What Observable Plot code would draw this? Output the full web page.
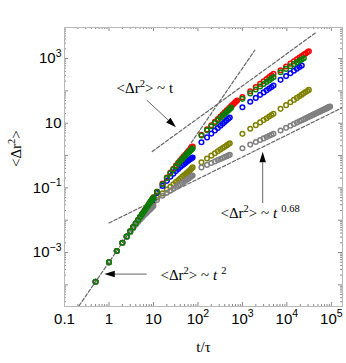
<!DOCTYPE html>
<html><head><meta charset="utf-8">
<script src="https://cdn.jsdelivr.net/npm/d3@7"></script>
<script src="https://cdn.jsdelivr.net/npm/@observablehq/plot@0.6"></script>
<style>body{margin:0;background:#fff}</style>
</head><body>
<script>
// ---- time grids (t/τ) ----
const T1 = [0.5,1,1.5,2,2.5,3,3.5,4,4.5,5,5.5,6,6.5,7,7.5,8,8.5,9,9.5,10];
const T2 = [12,16,20,24,28,32,36,40,44,48,52,56,60,64,68,72,76];
const T3 = [120,160,200,240,280,320,360,400,440,480,520,560,600,640,680,720,760];
const T4 = [1000,1500,2000,2500,3000,3500,4000,4500,5000];
const T5 = [7200,9600,12000,14400,16800,19200,21600,24000,26400,28800,31200,33600,36000,38400,40800,43200,45600,48000,50400,52800,55200,57600,60000,62400,64800,67200,69600,72000,74400,76800,79200,81600,84000,86400,88800,91200,93600];
const GRIDS = [T1, T2, T3, T4, T5];

// ---- <Δr²> values per series, per time block ----
const red = [
  [1.25e-4,5.0e-4,1.12e-3,2.0e-3,3.12e-3,4.5e-3,6.1e-3,8.0e-3,0.0101,0.0125,0.0151,0.018,0.0211,0.0245,0.0281,0.0322,0.0364,0.041,0.0457,0.051],
  [0.076,0.135,0.21,0.295,0.39,0.49,0.6,0.71,0.82,0.94,1.06,1.18,1.31,1.44,1.57,1.72,1.88],
  [4.4,6.43,8.64,10.99,13.47,16.07,18.76,21.57,24.46,27.44,30.49,33.62,36.83,40.1,43.44,46.85,50.3],
  [64,97.2,130.7,164.4,198.4,232.6,266.9,301.3,335.9],
  [435,566.8,696,823.1,948.7,1072.5,1195,1317,1438,1558,1677]
];
const green = [
  [1.25e-4,5.0e-4,1.12e-3,2.0e-3,3.12e-3,4.5e-3,6.1e-3,8.0e-3,0.0101,0.0125,0.0151,0.018,0.0211,0.0245,0.0281,0.032,0.0361,0.0405,0.0451,0.05],
  [0.075,0.13,0.2,0.28,0.37,0.46,0.56,0.66,0.76,0.87,0.98,1.09,1.2,1.31,1.42,1.53,1.65],
  [4.15,6.01,8.02,10.15,12.38,14.71,17.12,19.61,22.18,24.81,27.51,30.27],
  [56.6,83.5,110.1,136.4,162.5,188.4,214.2,239.9,265.3],
  [377,478.6,576,670,761.6,851.1,938.3,1024]
];
const blue = [
  [1.25e-4,5.0e-4,1.12e-3,2.0e-3,3.1e-3,4.45e-3,6.0e-3,7.8e-3,9.9e-3,0.0123,0.0147,0.0173,0.02,0.0229,0.026,0.0292,0.0326,0.0362,0.04,0.044],
  [0.07,0.115,0.165,0.22,0.275,0.33,0.385,0.44,0.49,0.54,0.59,0.64,0.69,0.735,0.78,0.825,0.87],
  [2.58,3.64,4.76,5.93,7.13,8.37,9.64,10.94,12.27,13.62,14.99],
  [31.2,46.06,60.7,75.2,89.6,103.9,118.1,132.2,146.3],
  [219,286.2,352.2,417.3,481.6,545.3,608.4]
];
const olive = [
  [1.25e-4,5.0e-4,1.11e-3,1.98e-3,3.05e-3,4.35e-3,5.8e-3,7.6e-3,9.5e-3,0.0114,0.0135,0.0156,0.0178,0.0201,0.0224,0.0248,0.0272,0.0296,0.032,0.035],
  [0.05,0.068,0.088,0.108,0.13,0.15,0.172,0.195,0.218,0.24,0.262,0.285,0.31,0.335,0.36,0.395,0.43],
  [0.62,0.808,0.992,1.173,1.352,1.529,1.703,1.877,2.049,2.22,2.389],
  [4.69,6.73,8.69,10.6,12.47,14.3,16.11,17.88,19.65],
  [27.8,36.2,44.5,52.6,60.6,68.5,76.4,84.2,91.9,99.5,107.1]
];
const gray = [
  [1.24e-4,4.95e-4,1.1e-3,1.96e-3,3.0e-3,4.25e-3,5.6e-3,7.2e-3,8.8e-3,0.0104,0.012,0.0136,0.0152,0.0168,0.0185,0.0202,0.0219,0.0237,0.0255,0.0275],
  [0.042,0.057,0.07,0.082,0.094,0.106,0.118,0.13,0.142,0.154,0.166,0.178,0.19,0.202,0.215,0.228,0.24],
  [0.43,0.513,0.587,0.656,0.721,0.782,0.84,0.896,0.95,1.0,1.05],
  [1.68,2.18,2.62,3.02,3.39,3.75,4.08,4.4,4.71],
  [5.93,7.18,8.33,9.4,10.42,11.39,12.31,13.21,14.08,14.91,15.73,16.52,17.29,18.05,18.79,19.53,20.24,20.94,21.63,22.31,22.98,23.64,24.29,24.94,25.56,26.19,26.81,27.42,28.02,28.62,29.22,29.81,30.39,30.96,31.52,32.09,32.65]
];
const SERIES_NAMES = ["olive","blue","red","gray","green"];   // drawing order
const SERIES_COLORS = ["#aaa800","#0000ff","#ff0000","#3a3a3a","#129a12"];
const SERIES_DATA = {gray, olive, blue, red, green};

// ---- guide lines (power laws) ----
const fitName = ["t2","t2","t1","t1","t068","t068"];
const fitT    = [0.18, 1900, 9.4, 46300, 1, 178000];
const fitV    = [1.62e-5, 1805, 1.33, 6550, 0.0082, 30.5];

// ---- axis ticks ----
const xDomain = [0.1, 178000];
const yDomain = [2.14e-5, 9120];
const xLabelVals = [0.1, 1, 10, 100, 1000, 10000, 100000];
const xLabelText = ["0.1", "1", "10", "10^{2}", "10^{3}", "10^{4}", "10^{5}"];
const yLabelVals = [0.001, 0.1, 10, 1000];
const yLabelText = ["10^{\u22123}", "10^{\u22121}", "10", "10^{3}"];

// ---- annotations ----
const noteText = ["<\u0394r^{2}> ~ t", "<\u0394r^{2}> ~ *{t}^{\u2009\u20090.68}", "<\u0394r^{2}> ~ *{t}^{\u2009\u20092}"];
const noteT = [1.48, 321, 14.4];
const noteV = [118, 0.0161, 1.94e-4];
const arrowT1 = [7.23, 2930, 7.23];
const arrowV1 = [50.2, 0.0327, 2.08e-4];
const arrowT2 = [33, 2930, 0.806];
const arrowV2 = [7.18, 1.26, 2.08e-4];

// ---- build rows ----
const rows = [];
for (const name of SERIES_NAMES) {
  SERIES_DATA[name].forEach((vals, b) => {
    vals.forEach((v, i) => rows.push({series: name, t: GRIDS[b][i], v}));
  });
}
const fits = fitT.map((t, i) => ({fit: fitName[i], t, v: fitV[i]}));
const xt = d3.scaleLog().domain(xDomain).ticks(40);
const yt = d3.scaleLog().domain(yDomain).ticks(40);
const isMajor = d => Math.abs(Math.log10(d) - Math.round(Math.log10(d))) < 1e-9;
const xMaj = xt.filter(isMajor), xMin = xt.filter(d => !isMajor(d));
const yMaj = yt.filter(isMajor), yMin = yt.filter(d => !isMajor(d));

const W = 346, H = 363, mL = 64, mR = 4, mT = 27, mB = 57;
const PH = H - mT - mB, PW = W - mL - mR;
const tickColor = "#8a8a8a";

const plot = Plot.plot({
  width: W, height: H,
  marginLeft: mL, marginRight: mR, marginTop: mT, marginBottom: mB,
  x: {type: "log", domain: xDomain, axis: null},
  y: {type: "log", domain: yDomain, axis: null},
  color: {domain: SERIES_NAMES, range: SERIES_COLORS},
  style: {fontFamily: "'Liberation Sans', Arial, sans-serif", fontSize: "15px", background: "#fff", color: "#000"},
  marks: [
    // inward ticks, all four sides
    Plot.tickX(xMaj, {x: d => d, stroke: tickColor, insetTop: PH - 4}),
    Plot.tickX(xMin, {x: d => d, stroke: tickColor, insetTop: PH - 2}),
    Plot.tickX(xMaj, {x: d => d, stroke: tickColor, insetBottom: PH - 4}),
    Plot.tickX(xMin, {x: d => d, stroke: tickColor, insetBottom: PH - 2}),
    Plot.tickY(yMaj, {y: d => d, stroke: tickColor, insetRight: PW - 4}),
    Plot.tickY(yMin, {y: d => d, stroke: tickColor, insetRight: PW - 2}),
    Plot.tickY(yMaj, {y: d => d, stroke: tickColor, insetLeft: PW - 4}),
    Plot.tickY(yMin, {y: d => d, stroke: tickColor, insetLeft: PW - 2}),
    Plot.frame({stroke: "#b8b8b8"}),
    // guide lines
    Plot.line(fits, {x: "t", y: "v", z: "fit", stroke: "#666", strokeWidth: 1.2, strokeDasharray: "3.5,2", clip: true}),
    // data
    Plot.dot(rows, {x: "t", y: "v", stroke: "series", r: 2.3, strokeWidth: 1.5, fill: "none"}),
    // tick labels
    Plot.text(xLabelVals, {x: d => d, frameAnchor: "bottom", dy: 17, text: (d, i) => xLabelText[i], fontSize: 15}),
    Plot.text(yLabelVals, {y: d => d, frameAnchor: "left", dx: -3, textAnchor: "end", text: (d, i) => yLabelText[i], fontSize: 15}),
    // axis titles
    Plot.text(["t/\u03c4"], {frameAnchor: "bottom", dy: 45, fontSize: 15, fontFamily: "'Liberation Serif', 'Times New Roman', serif"}),
    Plot.text(["<\u0394r^{2}>"], {frameAnchor: "left", dx: -48, rotate: -90, fontSize: 15, fontFamily: "'Liberation Serif', 'Times New Roman', serif"}),
    // annotations
    Plot.text(noteText, {x: (d, i) => noteT[i], y: (d, i) => noteV[i], text: d => d, textAnchor: "start", fontSize: 15, fontFamily: "'Liberation Serif', 'Times New Roman', serif"})
  ]
});
document.body.appendChild(plot);

// rich text: ^{...} superscript, *{...} italic
const NS = "http://www.w3.org/2000/svg";
plot.querySelectorAll("text").forEach(el => {
  const s = el.textContent;
  if (!/[\^*]\{/.test(s)) return;
  const fs = parseFloat(getComputedStyle(el).fontSize) || 15;
  const sh = +(fs * 0.42).toFixed(2);
  while (el.firstChild) el.removeChild(el.firstChild);
  let raised = false;
  for (const p of s.split(/(\^\{[^}]*\}|\*\{[^}]*\})/)) {
    if (!p) continue;
    const ts = document.createElementNS(NS, "tspan");
    if (p.startsWith("^{")) {
      ts.textContent = p.slice(2, -1);
      ts.setAttribute("font-size", (fs * 0.7).toFixed(1));
      ts.setAttribute("dy", -sh);
      raised = true;
    } else {
      if (p.startsWith("*{")) { ts.textContent = p.slice(2, -1); ts.setAttribute("font-style", "italic"); }
      else ts.textContent = p;
      if (raised) { ts.setAttribute("dy", sh); raised = false; }
    }
    el.appendChild(ts);
  }
});

// arrows with filled heads, positioned through Plot's scales
const sx = plot.scale("x"), sy = plot.scale("y");
const ag = d3.select(plot).append("g");
arrowT1.forEach((t1, i) => {
  const x1 = sx.apply(t1), y1 = sy.apply(arrowV1[i]);
  const x2 = sx.apply(arrowT2[i]), y2 = sy.apply(arrowV2[i]);
  const a = Math.atan2(y2 - y1, x2 - x1), L = 10.5, w = 3.2;
  const bx = x2 - L * Math.cos(a), by = y2 - L * Math.sin(a);
  ag.append("line").attr("x1", x1).attr("y1", y1).attr("x2", bx).attr("y2", by)
    .attr("stroke", "#666").attr("stroke-width", 1);
  ag.append("path")
    .attr("d", `M${x2},${y2}L${bx + w * Math.sin(a)},${by - w * Math.cos(a)}L${bx - w * Math.sin(a)},${by + w * Math.cos(a)}Z`)
    .attr("fill", "#000");
});
</script>
</body></html>
